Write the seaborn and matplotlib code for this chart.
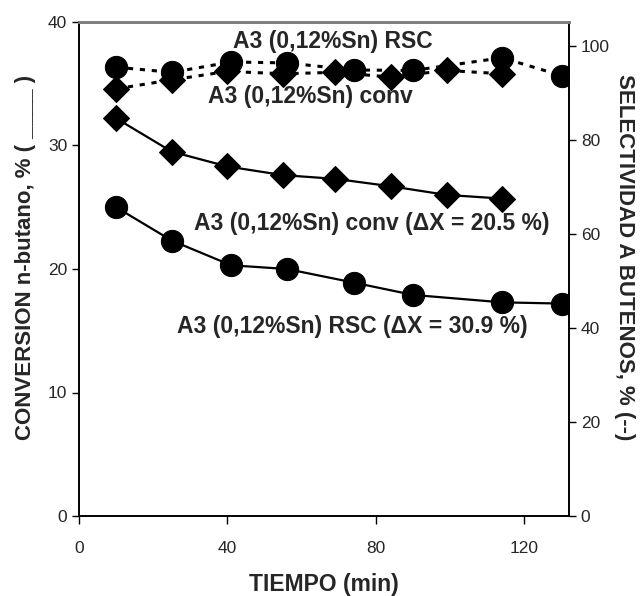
import matplotlib
matplotlib.use("Agg")
import matplotlib.pyplot as plt
import seaborn as sns
import pandas as pd

sns.set_style("ticks")
plt.rcParams['font.family'] = ['Liberation Sans', 'DejaVu Sans']

# Data
time_conv = [10, 25, 40, 55, 69, 84, 99, 114]
conv_conv = [32.2, 29.5, 28.3, 27.6, 27.3, 26.7, 26.0, 25.7]
sel_conv = [90.8, 92.7, 94.5, 94.0, 94.3, 93.3, 94.7, 94.0]

time_rsc = [10, 25, 41, 56, 74, 90, 114, 130]
conv_rsc = [25.0, 22.3, 20.3, 20.0, 18.9, 17.9, 17.3, 17.2]
sel_rsc = [95.4, 94.3, 96.5, 96.3, 94.8, 94.7, 97.4, 93.6]

xticks = [0, 40, 80, 120]
yticks_left = [0, 10, 20, 30, 40]
yticks_right = [0, 20, 40, 60, 80, 100]

fig = plt.figure(figsize=(6.42, 5.96), dpi=100)
ax = fig.add_axes([79/642, 1-516/596, (569-79)/642, (516-22)/596])
ax2 = ax.twinx()

sns.lineplot(x=time_conv, y=conv_conv, ax=ax, color='black', marker='D',
             markersize=13, linewidth=1.6, markeredgecolor='black', sort=False)
sns.lineplot(x=time_rsc, y=conv_rsc, ax=ax, color='black', marker='o',
             markersize=16, linewidth=1.6, markeredgecolor='black', sort=False)
sns.lineplot(x=time_conv, y=sel_conv, ax=ax2, color='black', marker='D',
             markersize=13, linewidth=2.2, linestyle=(0, (1.7, 2.2)),
             markeredgecolor='black', sort=False)
sns.lineplot(x=time_rsc, y=sel_rsc, ax=ax2, color='black', marker='o',
             markersize=16, linewidth=2.2, linestyle=(0, (1.7, 2.2)),
             markeredgecolor='black', sort=False)

ax.set_xlim(0, 132)
ax.set_ylim(0, 40)
ax2.set_ylim(0, 105)
ax.set_xticks(xticks)
ax.set_yticks(yticks_left)
ax2.set_yticks(yticks_right)

for a in (ax, ax2):
    a.tick_params(labelsize=12.5, length=5, width=1, direction='out', color='black')
    for s in a.spines.values():
        s.set_linewidth(1.2)
        s.set_color('black')
    a.spines['top'].set_color('#808080')
    a.spines['top'].set_linewidth(2)
ax.tick_params(axis='x', length=6, pad=12)

ax.set_xlabel('TIEMPO (min)', fontsize=16.5, fontweight='bold', va='center')
ax.xaxis.set_label_coords(0.5, (516-584)/494)
ax.set_ylabel('CONVERSION n-butano, % ( ____ )', fontsize=16, fontweight='bold', va='center')
ax.yaxis.set_label_coords((26-79)/490, (516-257)/494)
ax2.set_ylabel('SELECTIVIDAD A BUTENOS, % (--)', fontsize=16, fontweight='bold',
               rotation=270, va='center')
ax2.yaxis.set_label_coords((625-79)/490, (516-257)/494)

tk = dict(fontsize=16.5, fontweight='bold', ha='center', va='center', transform=fig.transFigure)
fig.text(333/642, 1-41.7/596, 'A3 (0,12%Sn) RSC', **tk)
fig.text(310/642, 1-96.7/596, 'A3 (0,12%Sn) conv', **tk)
fig.text(371.7/642, 1-223.3/596, 'A3 (0,12%Sn) conv (ΔX = 20.5 %)', **tk)
fig.text(352.5/642, 1-326.7/596, 'A3 (0,12%Sn) RSC (ΔX = 30.9 %)', **tk)

fig.savefig('out.png', dpi=100)
